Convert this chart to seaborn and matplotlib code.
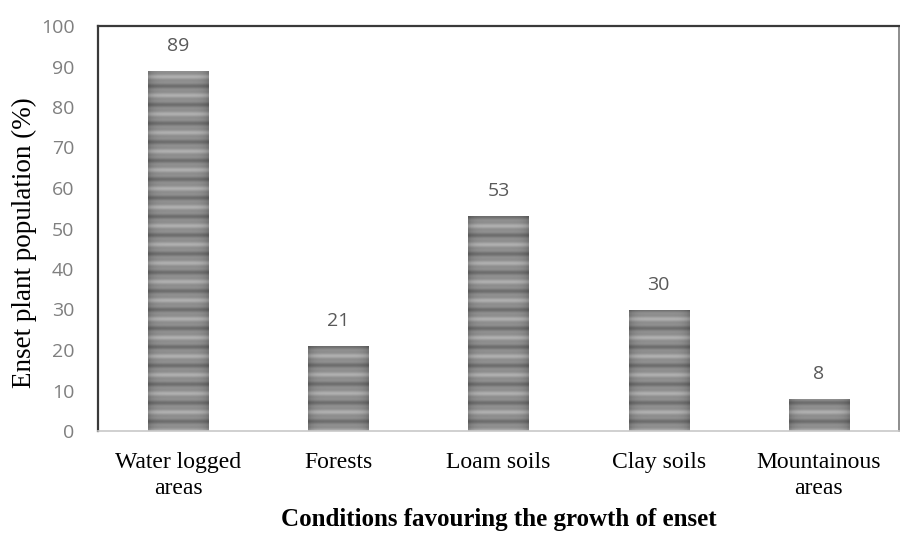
import numpy as np
import pandas as pd
import matplotlib
matplotlib.use("Agg")
import matplotlib.pyplot as plt
import seaborn as sns

conditions = ["Water logged\nareas", "Forests", "Loam soils", "Clay soils", "Mountainous\nareas"]
population = [89, 21, 53, 30, 8]
y_ticks = [0, 10, 20, 30, 40, 50, 60, 70, 80, 90, 100]

df = pd.DataFrame({"condition": conditions, "population": population})

sns.set_theme(style="white")
serif = ["Liberation Serif", "DejaVu Serif"]
sans = ["Open Sans", "DejaVu Sans"]

fig = plt.figure(figsize=(9, 5.34), dpi=100)
ax = fig.add_axes([98 / 900, 1 - 431 / 534, 801 / 900, 405 / 534])

sns.barplot(data=df, x="condition", y="population", color="#8c8c8c",
            width=0.375, ax=ax, saturation=1)

# striped grey fill, clipped to each bar
def stripe_texture(h_units):
    ys = np.linspace(0, h_units, max(int(h_units * 8), 8))
    phase = (ys % 4.6) / 4.6
    band = 0.56 + 0.09 * np.cos(2 * np.pi * phase) + 0.04 * np.cos(6 * np.pi * phase)
    xs = np.linspace(-1, 1, 40)
    edge = 1 - 0.18 * xs ** 6
    return band[:, None] * edge[None, :]

for patch in ax.patches:
    x0, w, h = patch.get_x(), patch.get_width(), patch.get_height()
    tex = stripe_texture(h)
    im = ax.imshow(tex, extent=[x0, x0 + w, 0, h], origin="lower", aspect="auto",
                   cmap="gray", vmin=0, vmax=1, zorder=patch.get_zorder() + 0.1)
    im.set_clip_path(patch)
    patch.set_edgecolor("none")

for i, v in enumerate(population):
    ax.annotate(str(v), (i, v), xytext=(0, 18), textcoords="offset points",
                ha="center", va="center", fontsize=14, color="#595959", family=sans)

ax.set_xlim(-0.5, 4.5)
ax.set_ylim(0, 100)
ax.set_yticks(y_ticks)
ax.tick_params(axis="y", length=0, pad=17, labelsize=14, labelcolor="#7f7f7f")
ax.tick_params(axis="x", length=0, pad=15, labelsize=17, labelcolor="black")
for lbl in ax.get_yticklabels():
    lbl.set_family(sans)
for lbl in ax.get_xticklabels():
    lbl.set_family(serif)
    lbl.set_linespacing(1.3)

ax.set_ylabel("Enset plant population (%)", fontsize=19.5, family=serif, color="black")
ax.yaxis.set_label_coords(-0.076, 0.464)
ax.set_xlabel("Conditions favouring the growth of enset", fontsize=18, family=serif,
              fontweight="bold", color="black")
ax.xaxis.set_label_coords(0.5, -0.19)

ax.spines["left"].set_color("#3a3a3a")
ax.spines["left"].set_linewidth(1.6)
ax.spines["top"].set_color("#3a3a3a")
ax.spines["top"].set_linewidth(1.6)
ax.spines["right"].set_color("#7a7a7a")
ax.spines["right"].set_linewidth(1.2)
ax.spines["bottom"].set_color("#c8c8c8")
ax.spines["bottom"].set_linewidth(1.2)

fig.savefig("out.png", dpi=100)
